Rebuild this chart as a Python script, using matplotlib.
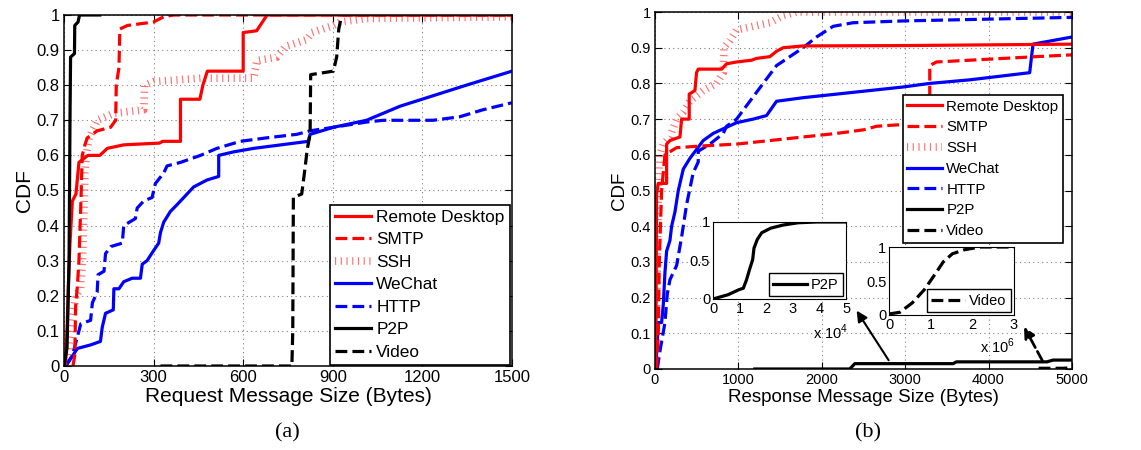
import numpy as np
import matplotlib
matplotlib.use('Agg')
import matplotlib.pyplot as plt

plt.rcParams['font.family'] = ['Liberation Sans', 'DejaVu Sans']
plt.rcParams['mathtext.fontset'] = 'custom'
plt.rcParams['mathtext.rm'] = 'Liberation Sans'

# ---------------- Datos (a): tamaño de mensaje de petición ----------------
req_rd_x = [5, 10, 15, 20, 28, 40, 50, 65, 80, 120, 145, 200, 320, 330, 390, 390, 455, 465, 480, 600, 600, 645, 680, 1500]
req_rd_y = [0, 0.1, 0.24, 0.35, 0.47, 0.49, 0.58, 0.59, 0.60, 0.60, 0.62, 0.63, 0.635, 0.64, 0.64, 0.76, 0.76, 0.80, 0.84, 0.84, 0.95, 0.955, 1.0, 1.0]

req_smtp_x = [30, 36, 39, 45, 50, 56, 61, 70, 78, 111, 156, 173, 175, 184, 187, 212, 300, 334, 367, 1500]
req_smtp_y = [0, 0.03, 0.17, 0.23, 0.30, 0.45, 0.60, 0.63, 0.65, 0.67, 0.68, 0.70, 0.80, 0.85, 0.96, 0.97, 0.98, 0.995, 1.0, 1.0]

req_ssh_x = [5, 15, 25, 40, 55, 62, 67, 70, 75, 84, 111, 167, 267, 270, 300, 457, 635, 646, 713, 741, 813, 830, 902, 924, 1013, 1500]
req_ssh_y = [0, 0.05, 0.12, 0.20, 0.22, 0.30, 0.45, 0.55, 0.60, 0.65, 0.70, 0.72, 0.73, 0.80, 0.81, 0.82, 0.82, 0.87, 0.88, 0.91, 0.93, 0.95, 0.97, 0.98, 0.99, 0.995]

req_wechat_x = [6, 45, 89, 122, 128, 139, 165, 167, 184, 200, 228, 256, 262, 278, 301, 317, 323, 334, 356, 379, 412, 434, 479, 518, 518, 568, 635, 818, 824, 902, 1013, 1125, 1236, 1347, 1500]
req_wechat_y = [0, 0.05, 0.06, 0.07, 0.11, 0.15, 0.16, 0.22, 0.22, 0.24, 0.25, 0.25, 0.29, 0.30, 0.33, 0.35, 0.38, 0.41, 0.44, 0.46, 0.49, 0.51, 0.53, 0.54, 0.60, 0.61, 0.62, 0.64, 0.66, 0.68, 0.70, 0.74, 0.77, 0.80, 0.84]

req_http_x = [6, 28, 50, 56, 89, 95, 111, 114, 134, 139, 156, 195, 200, 239, 245, 267, 295, 306, 334, 345, 390, 457, 512, 590, 679, 780, 824, 902, 1013, 1069, 1236, 1325, 1403, 1500]
req_http_y = [0, 0.03, 0.10, 0.12, 0.13, 0.18, 0.21, 0.26, 0.27, 0.32, 0.34, 0.35, 0.40, 0.42, 0.45, 0.47, 0.48, 0.52, 0.55, 0.57, 0.58, 0.60, 0.62, 0.64, 0.65, 0.66, 0.67, 0.68, 0.695, 0.70, 0.70, 0.71, 0.73, 0.75]

req_p2p_x = [0, 10, 17, 20, 22, 35, 36, 47, 52, 120]
req_p2p_y = [0, 0.05, 0.30, 0.70, 0.88, 0.89, 0.97, 0.98, 1.0, 1.0]

req_video_x = [323, 763, 766, 768, 796, 805, 815, 824, 826, 902, 913, 920, 930, 1500]
req_video_y = [0, 0, 0.10, 0.48, 0.49, 0.55, 0.62, 0.66, 0.83, 0.84, 0.88, 0.96, 1.0, 1.0]

# ---------------- Datos (b): tamaño de mensaje de respuesta ----------------
resp_rd_x = [10, 20, 40, 140, 140, 180, 300, 320, 411, 411, 479, 499, 519, 799, 859, 979, 1158, 1218, 1378, 1458, 1538, 1777, 2976, 5000]
resp_rd_y = [0, 0.49, 0.52, 0.52, 0.63, 0.64, 0.65, 0.70, 0.70, 0.77, 0.78, 0.83, 0.84, 0.84, 0.855, 0.86, 0.865, 0.87, 0.875, 0.89, 0.90, 0.905, 0.906, 0.91]

resp_smtp_x = [20, 30, 40, 52, 80, 120, 260, 580, 980, 1380, 1780, 2180, 2500, 2660, 2980, 3295, 3295, 3375, 3775, 4175, 4575, 5000]
resp_smtp_y = [0, 0.05, 0.10, 0.30, 0.50, 0.60, 0.62, 0.625, 0.63, 0.64, 0.65, 0.66, 0.67, 0.68, 0.685, 0.69, 0.85, 0.86, 0.865, 0.87, 0.875, 0.88]

resp_ssh_x = [10, 28, 40, 60, 100, 180, 260, 340, 419, 579, 739, 819, 827, 899, 979, 1178, 1378, 1538, 1697, 5000]
resp_ssh_y = [0, 0.30, 0.50, 0.60, 0.63, 0.65, 0.70, 0.72, 0.75, 0.78, 0.80, 0.83, 0.90, 0.92, 0.95, 0.96, 0.97, 0.99, 1.0, 1.0]

resp_wechat_x = [10, 40, 80, 100, 120, 140, 180, 200, 240, 280, 340, 419, 579, 699, 979, 1178, 1338, 1458, 1777, 2177, 2576, 2976, 3295, 3774, 4493, 4533, 5000]
resp_wechat_y = [0, 0.13, 0.13, 0.18, 0.27, 0.33, 0.36, 0.40, 0.44, 0.50, 0.56, 0.59, 0.64, 0.66, 0.69, 0.70, 0.71, 0.75, 0.76, 0.77, 0.78, 0.79, 0.80, 0.81, 0.83, 0.91, 0.93]

resp_http_x = [28, 60, 120, 148, 180, 260, 320, 379, 459, 519, 519, 659, 819, 859, 979, 1138, 1298, 1458, 1777, 1937, 2137, 2376, 2976, 5000]
resp_http_y = [0, 0.05, 0.13, 0.21, 0.25, 0.29, 0.37, 0.46, 0.55, 0.58, 0.61, 0.63, 0.66, 0.68, 0.70, 0.75, 0.80, 0.85, 0.90, 0.93, 0.96, 0.97, 0.975, 0.985]

resp_p2p_x = [1198, 2336, 2396, 3575, 3615, 4700, 4773, 5000]
resp_p2p_y = [0, 0, 0.015, 0.015, 0.02, 0.02, 0.025, 0.025]

resp_video_x = [4600, 4900, 5000]
resp_video_y = [0.002, 0.002, 0.004]

# Insets
ins_p2p_x = [0, 0.57, 0.97, 1.14, 1.26, 1.37, 1.49, 1.54, 1.66, 1.83, 2.17, 2.63, 3.2, 3.9, 5.0]
ins_p2p_y = [0, 0.056, 0.12, 0.14, 0.25, 0.38, 0.51, 0.66, 0.77, 0.86, 0.92, 0.96, 0.99, 1.0, 1.0]

ins_video_x = [0, 0.26, 0.56, 0.85, 1.07, 1.3, 1.52, 1.81, 2.19, 3.0]
ins_video_y = [0.015, 0.04, 0.18, 0.375, 0.57, 0.78, 0.90, 0.96, 1.0, 1.0]

labels = ['Remote Desktop', 'SMTP', 'SSH', 'WeChat', 'HTTP', 'P2P', 'Video']
yticks = [0, 0.1, 0.2, 0.3, 0.4, 0.5, 0.6, 0.7, 0.8, 0.9, 1]
ytick_labels = ['0', '0.1', '0.2', '0.3', '0.4', '0.5', '0.6', '0.7', '0.8', '0.9', '1']
req_xticks = [0, 300, 600, 900, 1200, 1500]
resp_xticks = [0, 1000, 2000, 3000, 4000, 5000]

# Estilos
LW = 2.3
styles = [
    dict(color='red', ls='-', lw=LW),
    dict(color='red', ls='--', lw=LW),
    dict(color='#ff7070', ls=(0, (0.15, 0.6)), lw=5.5, solid_capstyle='butt', dash_capstyle='butt'),
    dict(color='blue', ls='-', lw=LW),
    dict(color='blue', ls='--', lw=LW),
    dict(color='black', ls='-', lw=LW),
    dict(color='black', ls='--', lw=LW),
]


def setup_main(ax, xlim, xticks, tick_fs, label_fs, xlabel):
    ax.set_xlim(*xlim)
    ax.set_ylim(0, 1)
    ax.set_xticks(xticks)
    ax.set_xticklabels([str(t) for t in xticks], fontsize=tick_fs)
    ax.set_yticks(yticks)
    ax.set_yticklabels(ytick_labels, fontsize=tick_fs)
    ax.tick_params(direction='in', top=True, right=True, length=5, width=0.8, pad=3)
    ax.grid(True, ls=(0, (1, 3)), color='0.5', lw=0.8)
    ax.set_xlabel(xlabel, fontsize=label_fs, labelpad=1)
    ax.set_ylabel('CDF', fontsize=label_fs, labelpad=2)
    for s in ax.spines.values():
        s.set_linewidth(1.1)


fig = plt.figure(figsize=(11.41, 4.5), dpi=100)

# ---------------- (a) ----------------
ax1 = fig.add_axes([0.0561, 0.1867, 0.3926, 0.78])
series_a = [(req_rd_x, req_rd_y), (req_smtp_x, req_smtp_y), (req_ssh_x, req_ssh_y),
            (req_wechat_x, req_wechat_y), (req_http_x, req_http_y),
            (req_p2p_x, req_p2p_y), (req_video_x, req_video_y)]
order = [2, 4, 3, 6, 1, 0, 5]
handles_a = [None] * 7
for i in order:
    x, y = series_a[i]
    handles_a[i], = ax1.plot(x, y, label=labels[i], **styles[i])
setup_main(ax1, (0, 1500), req_xticks, 12, 15, 'Request Message Size (Bytes)')
leg1 = ax1.legend(handles_a, labels, loc='lower right', bbox_to_anchor=(0.9955, 0.003),
                  borderaxespad=0, fontsize=12.4, fancybox=False, framealpha=1,
                  edgecolor='black', handlelength=2.1, labelspacing=0.43,
                  handletextpad=0.3, borderpad=0.3)
leg1.get_frame().set_linewidth(1.2)

# ---------------- (b) ----------------
ax2 = fig.add_axes([0.574, 0.18, 0.3655, 0.7933])
series_b = [(resp_rd_x, resp_rd_y), (resp_smtp_x, resp_smtp_y), (resp_ssh_x, resp_ssh_y),
            (resp_wechat_x, resp_wechat_y), (resp_http_x, resp_http_y),
            (resp_p2p_x, resp_p2p_y), (resp_video_x, resp_video_y)]
handles_b = [None] * 7
for i in order:
    x, y = series_b[i]
    handles_b[i], = ax2.plot(x, y, label=labels[i], **styles[i])
setup_main(ax2, (0, 5000), resp_xticks, 10.5, 13.5, 'Response Message Size (Bytes)')
leg2 = ax2.legend(handles_b, labels, loc='upper right', bbox_to_anchor=(0.9784, 0.7675),
                  borderaxespad=0, fontsize=10.8, fancybox=False, framealpha=1,
                  edgecolor='black', handlelength=2.3, labelspacing=0.45,
                  handletextpad=0.3, borderpad=0.3)
leg2.get_frame().set_linewidth(1.2)

# flechas hacia los insets
ax2.annotate('', xy=(2400, 0.17), xytext=(2820, 0.018),
             arrowprops=dict(arrowstyle='-|>', color='black', lw=1.5, mutation_scale=16))
ax2.annotate('', xy=(4410, 0.125), xytext=(4660, 0.017),
             arrowprops=dict(arrowstyle='-|>', color='black', lw=2, ls='--', mutation_scale=16))
ax2.text(1890, 0.085, 'x 10$^{4}$', fontsize=10.5)
ax2.text(3900, 0.045, 'x 10$^{6}$', fontsize=10.5)

# inset P2P
ins1 = fig.add_axes([0.6249, 0.3356, 0.1166, 0.1711])
ins1.plot(ins_p2p_x, ins_p2p_y, color='black', lw=LW, label='P2P')
ins1.set_xlim(0, 5)
ins1.set_ylim(0, 1)
ins1.set_xticks([0, 1, 2, 3, 4, 5])
ins1.set_xticklabels(['0', '1', '2', '3', '4', '5'], fontsize=10.5)
ins1.set_yticks([0, 0.5, 1])
ins1.set_yticklabels(['0', '0.5', '1'], fontsize=10.5)
ins1.tick_params(direction='in', length=0, pad=2)
ins1.legend(loc='lower right', fontsize=10.5, fancybox=False, framealpha=1, edgecolor='black',
            handlelength=2.3, handletextpad=0.3, borderpad=0.3, borderaxespad=0.2)

# inset Video
ins2 = fig.add_axes([0.7792, 0.30, 0.1095, 0.1511])
ins2.plot(ins_video_x, ins_video_y, color='black', lw=LW, ls='--', label='Video')
ins2.set_xlim(0, 3)
ins2.set_ylim(0, 1)
ins2.set_xticks([0, 1, 2, 3])
ins2.set_xticklabels(['0', '1', '2', '3'], fontsize=10.5)
ins2.set_yticks([0, 0.5, 1])
ins2.set_yticklabels(['0', '0.5', '1'], fontsize=10.5)
ins2.tick_params(direction='in', length=0, pad=2)
ins2.legend(loc='lower right', fontsize=10.5, fancybox=False, framealpha=1, edgecolor='black',
            handlelength=2.3, handletextpad=0.3, borderpad=0.3, borderaxespad=0.2)

fig.text(0.2515, 0.038, '(a)', ha='center', va='center', fontsize=16, family='Liberation Serif')
fig.text(0.7607, 0.038, '(b)', ha='center', va='center', fontsize=16, family='Liberation Serif')

fig.savefig('out.png', dpi=100)
